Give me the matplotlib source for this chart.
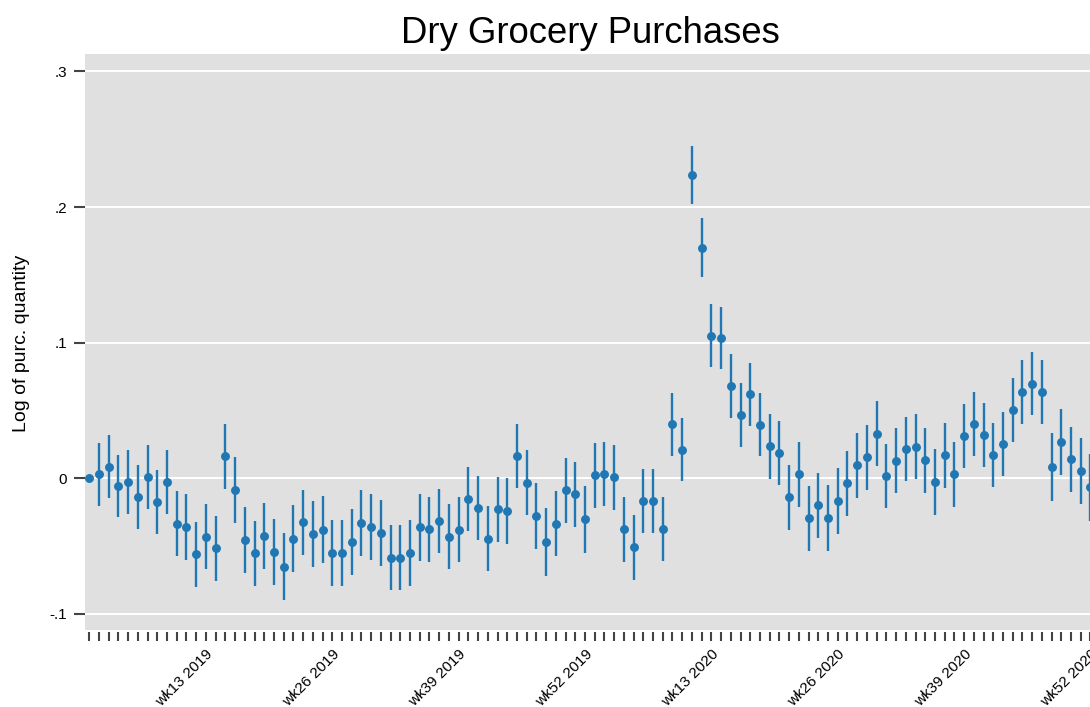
import numpy as np
import matplotlib
matplotlib.use("Agg")
import matplotlib.pyplot as plt

plt.rcParams['font.family'] = ['Liberation Sans', 'DejaVu Sans']

# weekly coefficients (wk1 2019 = reference week)
coef = [
    0.0000, 0.0029, 0.0086, -0.0057, -0.0030, -0.0135, 0.0010, -0.0172, -0.0027, -0.0334,
    -0.0359, -0.0561, -0.0430, -0.0516, 0.0162, -0.0084, -0.0457, -0.0553, -0.0423, -0.0544,
    -0.0652, -0.0445, -0.0325, -0.0408, -0.0379, -0.0551, -0.0551, -0.0470, -0.0330, -0.0357,
    -0.0403, -0.0585, -0.0585, -0.0551, -0.0362, -0.0376, -0.0317, -0.0430, -0.0379, -0.0150,
    -0.0219, -0.0445, -0.0229, -0.0241, 0.0165, -0.0032, -0.0278, -0.0470, -0.0334, -0.0089,
    -0.0116, -0.0303, 0.0024, 0.0034, 0.0007, -0.0374, -0.0509, -0.0167, -0.0167, -0.0374,
    0.0398, 0.0211, 0.2237, 0.1701, 0.1052, 0.1037, 0.0683, 0.0467, 0.0619, 0.0395,
    0.0236, 0.0184, -0.0141, 0.0029, -0.0295, -0.0200, -0.0292, -0.0167, -0.0037, 0.0096,
    0.0155, 0.0329, 0.0019, 0.0130, 0.0216, 0.0233, 0.0133, -0.0027, 0.0170, 0.0029,
    0.0310, 0.0403, 0.0322, 0.0172, 0.0253, 0.0504, 0.0636, 0.0698, 0.0639, 0.0081,
    0.0265, 0.0140, 0.0054, -0.0066,
]

# half width of the 95% CI
ci_half = [
    0.0000, 0.0232, 0.0230, 0.0231, 0.0236, 0.0236, 0.0237, 0.0236, 0.0235, 0.0237,
    0.0242, 0.0241, 0.0241, 0.0241, 0.0237, 0.0243, 0.0243, 0.0240, 0.0242, 0.0242,
    0.0246, 0.0246, 0.0241, 0.0243, 0.0246, 0.0246, 0.0246, 0.0243, 0.0246, 0.0243,
    0.0242, 0.0241, 0.0241, 0.0243, 0.0245, 0.0240, 0.0236, 0.0240, 0.0241, 0.0236,
    0.0236, 0.0241, 0.0241, 0.0240, 0.0237, 0.0240, 0.0241, 0.0250, 0.0242, 0.0241,
    0.0240, 0.0247, 0.0240, 0.0236, 0.0237, 0.0240, 0.0242, 0.0237, 0.0238, 0.0234,
    0.0231, 0.0231, 0.0213, 0.0220, 0.0230, 0.0229, 0.0236, 0.0234, 0.0232, 0.0231,
    0.0238, 0.0236, 0.0240, 0.0239, 0.0238, 0.0239, 0.0242, 0.0240, 0.0241, 0.0238,
    0.0238, 0.0238, 0.0237, 0.0240, 0.0238, 0.0238, 0.0241, 0.0240, 0.0238, 0.0237,
    0.0237, 0.0235, 0.0236, 0.0237, 0.0237, 0.0237, 0.0237, 0.0234, 0.0235, 0.0250,
    0.0243, 0.0240, 0.0241, 0.0245,
]

label_weeks = [12, 25, 38, 51, 64, 77, 90, 103]
label_text = ['wk13 2019', 'wk26 2019', 'wk39 2019', 'wk52 2019',
              'wk13 2020', 'wk26 2020', 'wk39 2020', 'wk52 2020']

yticks = [-0.1, 0, 0.1, 0.2, 0.3]
ytick_labels = ['-.1', '0', '.1', '.2', '.3']

blue = '#1f77b4'
x = np.arange(len(coef))

W, H = 1090, 707
fig = plt.figure(figsize=(W / 100, H / 100), dpi=100)
ax = fig.add_axes([85 / W, 1 - 630 / H, (1096.3 - 85) / W, (630 - 54) / H])
ax.set_facecolor('#e0e0e0')

ax.errorbar(x, coef, yerr=ci_half, fmt='o', color=blue, ecolor=blue,
            ms=5.4, elinewidth=1.7, capsize=0, zorder=3)

ax.set_xlim(-0.44, 103.6)
ax.set_ylim(-0.1118, 0.3128)

for s in ax.spines.values():
    s.set_visible(False)
ax.spines['bottom'].set_position(('outward', 1.5))

ax.tick_params(axis='x', length=6.5, width=1.5, color='#444444', pad=4,
               labelsize=11, labelrotation=45)
ax.tick_params(axis='y', length=8, width=1.5, color='#444444', pad=5, labelsize=11)

ax.set_yticks(yticks)
ax.set_yticklabels(ytick_labels)
ax.yaxis.grid(True, color='white', lw=1.4)
ax.set_axisbelow(True)

labels = [''] * len(x)
for w, t in zip(label_weeks, label_text):
    labels[w] = t
ax.set_xticks(x)
ax.set_xticklabels(labels)
for lab in ax.get_xticklabels():
    lab.set_rotation(45)
    lab.set_ha('right')
    lab.set_va('top')
    lab.set_rotation_mode('anchor')

fig.text(590 / W, 1 - 42.7 / H, 'Dry Grocery Purchases', ha='center', va='baseline', fontsize=26.3)
fig.text(22 / W, 1 - 343 / H, 'Log of purc. quantity', rotation=90, ha='center', va='center', fontsize=14)

fig.savefig('out.png', dpi=100)
